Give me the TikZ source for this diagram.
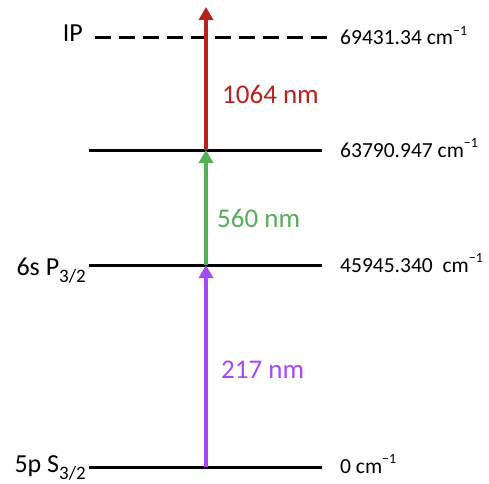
\documentclass[tikz,border=0pt]{standalone}
\usepackage{fontspec}
\setmainfont{Carlito}
\usetikzlibrary{arrows.meta}
\definecolor{redA}{RGB}{182,34,30}
\definecolor{greenA}{RGB}{86,174,90}
\definecolor{purpleA}{RGB}{163,73,245}
\newcommand{\mysub}[1]{\raisebox{-7pt}{\fontsize{19}{19}\selectfont #1}}
\newcommand{\mysup}[1]{\raisebox{0.42em}{\fontsize{14}{14}\selectfont #1}}
\begin{document}
\begin{tikzpicture}[x=1pt,y=1pt,
  level/.style={line width=3pt,black},
  ipline/.style={line width=3pt,black,dash pattern=on 16pt off 8pt},
  trans/.style={line width=4.5pt,-{Triangle[width=14pt,length=13pt]}},
  rlab/.style={anchor=base west,inner sep=0pt,font=\fontsize{21.5}{21.5}\selectfont},
  llab/.style={anchor=base east,inner sep=0pt,font=\fontsize{26}{26}\selectfont},
  wlab/.style={anchor=base west,inner sep=0pt,font=\fontsize{27}{27}\selectfont}]
\useasboundingbox (0,0) rectangle (489,483);
% level end points
\coordinate (ipL) at (95,445); \coordinate (ipR) at (328,445);
\coordinate (l3L) at (89,333); \coordinate (l3R) at (322,333);
\coordinate (l2L) at (89,218); \coordinate (l2R) at (322,218);
\coordinate (l1L) at (89,16);  \coordinate (l1R) at (322,16);
\coordinate (a0) at (206,16);
\coordinate (a1) at (206,218);
\coordinate (a2) at (206,333);
\coordinate (a3) at (206,476);
\draw[ipline] (ipL) -- (ipR);
\draw[level] (l3L) -- (l3R);
\draw[level] (l2L) -- (l2R);
\draw[level] (l1L) -- (l1R);
\draw[trans,redA] (a2) -- (a3);
\draw[trans,greenA] (a1) -- (a2);
\draw[trans,purpleA] (a0) -- (a1);
% labels
\node[llab] (ip) at (83,441) {IP};
\node[llab] (s6) at (86,208) {6s P\mysub{3/2}};
\node[llab] (p5) at (86,11) {5p S\mysub{3/2}};
\node[rlab] (e4) at (340,438) {69431.34 cm\mysup{−1}};
\node[rlab] (e3) at (340,326) {63790.947 cm\mysup{−1}};
\node[rlab] (e2) at (340,211) {45945.340\ \ cm\mysup{−1}};
\node[rlab] (e1) at (340,10) {0 cm\mysup{−1}};
\node[wlab,redA] (w3) at (222,380) {1064 nm};
\node[wlab,greenA] (w2) at (217,256) {560 nm};
\node[wlab,purpleA] (w1) at (221,105) {217 nm};
\end{tikzpicture}
\end{document}
